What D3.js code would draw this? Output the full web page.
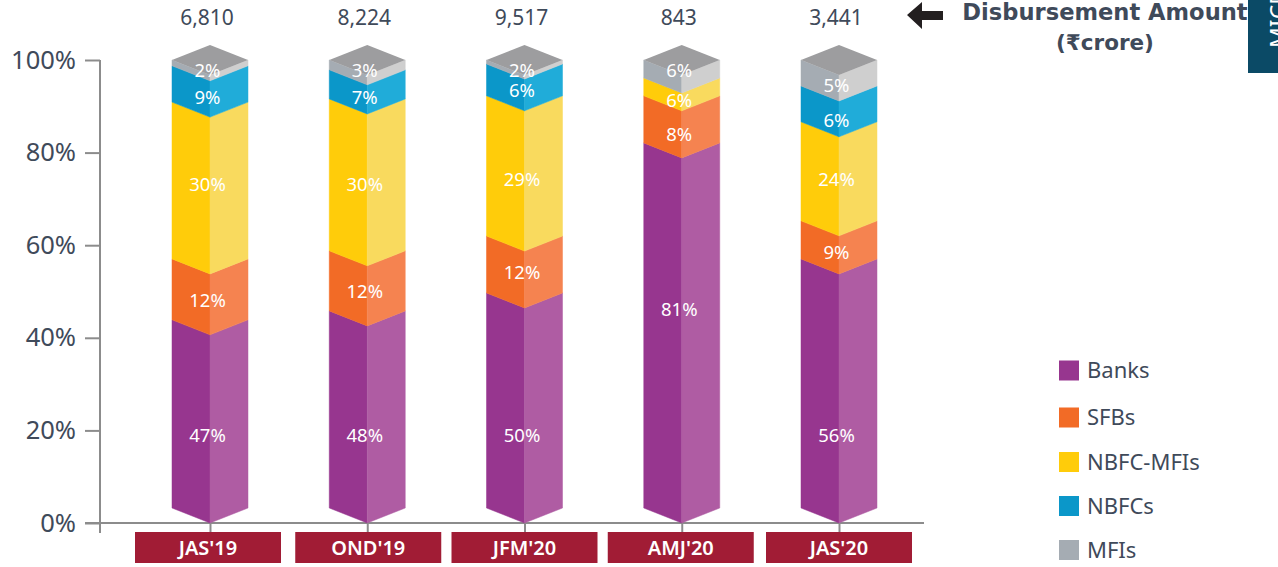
<!DOCTYPE html>
<html>
<head>
<meta charset="utf-8">
<title>Disbursement share by lender type</title>
<script src="https://cdn.jsdelivr.net/npm/d3@7"></script>
<style>
    html, body { margin: 0; padding: 0; background: #fff; overflow: hidden; }
    text { font-family: "Noto Sans", "Open Sans", sans-serif; }
</style>
</head>
<body>
<script>
"use strict";
const quarters = ["JAS'19", "OND'19", "JFM'20", "AMJ'20", "JAS'20"];
const amounts = ["6,810", "8,224", "9,517", "843", "3,441"];
const lenders = ["Banks", "SFBs", "NBFC-MFIs", "NBFCs", "MFIs"];
const percentTicks = [0, 20, 40, 60, 80, 100];

//printed share labels, one per quarter ("" means no label in the picture)
const banksLabels = [47, 48, 50, 81, 56];
const sfbsLabels = [12, 12, 12, 8, 9];
const nbfcMfisLabels = [30, 30, 29, 6, 24];
const nbfcsLabels = [9, 7, 6, "", 6];
const mfisLabels = [2, 3, 2, 6, 5];

//heights as they were actually drawn in the picture, they differ from the printed shares
const banksDrawn = [42, 44, 48, 81.5, 55.6];
const sfbsDrawn = [13.6, 13.4, 12.7, 10.5, 8.5];
const nbfcMfisDrawn = [35, 33.9, 31.3, 4, 22.1];
const nbfcsDrawn = [8.1, 6.5, 7.1, 0, 8];
const mfisDrawn = [1.3, 2.2, 0.9, 4, 5.8];

//where the label text sits, read against the axis
const banksLabelAt = [19, 19, 19, 46, 19];
const sfbsLabelAt = [48, 50, 54, 84, 58.5];
const nbfcMfisLabelAt = [73, 73, 74.2, 91.3, 74.2];
const nbfcsLabelAt = [92, 92, 93.3, 0, 87];
const mfisLabelAt = [97.8, 97.8, 97.8, 97.8, 94.4];

const measurements = { width: 1278, height: 567, depth: 15, halfBar: 38 };
const darkColors = ["#97368f", "#f26b26", "#ffcc0a", "#0b97c9", "#a5acb3"];
const lightColors = ["#af5ca3", "#f58350", "#f9da5e", "#20acd9", "#cfcfcf"];
const topColor = "#9d9d9f";
const axisColor = "#8c8c8c";
const textColor = "#3f4a5a";
//the boxes and the row spacing in the original are not quite regular
const boxShift = [-2, 1, 0, -1, 0];
const legendRows = [370.5, 417.5, 462, 506, 550];

const drawn = [banksDrawn, sfbsDrawn, nbfcMfisDrawn, nbfcsDrawn, mfisDrawn];
const labels = [banksLabels, sfbsLabels, nbfcMfisLabels, nbfcsLabels, mfisLabels];
const labelAt = [banksLabelAt, sfbsLabelAt, nbfcMfisLabelAt, nbfcsLabelAt, mfisLabelAt];

const svg = d3.select("body").append("svg")
    .attr("width", measurements.width)
    .attr("height", measurements.height);

const x = d3.scalePoint().domain(quarters).range([210, 839]);
const y = d3.scaleLinear().domain([0, 100]).range([523, 60]);
//the front corner of the prism runs on its own scale, the side corners sit one depth above it
const yFront = d3.scaleLinear().domain([0, 100]).range([523, 75]);

drawAxes();
drawBars();
drawAmounts();
drawLegend();
drawCorner();

function drawAxes() {
    const yAxis = svg.append("g")
        .attr("transform", "translate(100,0)")
        .call(d3.axisLeft(y).tickValues(percentTicks).tickSize(15).tickPadding(9).tickFormat(d => d + "%"));
    yAxis.select(".domain").remove();
    yAxis.selectAll("line").attr("stroke", axisColor).attr("stroke-width", 2);
    yAxis.selectAll("text").attr("font-size", 25.5).attr("fill", textColor);

    svg.append("line")
        .attr("x1", 100).attr("x2", 100).attr("y1", y(100)).attr("y2", 533)
        .attr("stroke", axisColor).attr("stroke-width", 2);
    svg.append("line")
        .attr("x1", 85).attr("x2", 924).attr("y1", y(0)).attr("y2", y(0))
        .attr("stroke", axisColor).attr("stroke-width", 2);

    const xAxis = svg.append("g")
        .attr("transform", `translate(0,${y(0)})`)
        .call(d3.axisBottom(x).tickSize(10).tickFormat(""));
    xAxis.select(".domain").remove();
    xAxis.selectAll("line").attr("stroke", axisColor).attr("stroke-width", 2);

    //quarter name boxes under the axis
    const boxes = svg.selectAll(".quarter")
        .data(quarters)
        .enter()
        .append("g")
        .attr("class", "quarter")
        .attr("transform", (d, i) => `translate(${x(d) + boxShift[i]},547.5)`);
    boxes.append("rect")
        .attr("x", -73).attr("y", -15.5)
        .attr("width", 146).attr("height", 31)
        .attr("fill", "#a11c35");
    boxes.append("text")
        .attr("text-anchor", "middle")
        .attr("dy", "0.35em")
        .attr("font-size", 20)
        .attr("font-weight", 600)
        .attr("fill", "#fff")
        .text(d => d);
}

function drawBars() {
    const { depth, halfBar } = measurements;
    quarters.forEach((quarter, q) => {
        const cx = x(quarter);
        const bar = svg.append("g").attr("class", "bar");
        let base = 0;
        lenders.forEach((lender, s) => {
            if (drawn[s][q] === 0) return;
            const top = base + drawn[s][q];
            const fb = yFront(base);
            const ft = yFront(top);
            //thin stroke in the fill colour closes the seams between the faces
            bar.append("polygon")
                .attr("points", [[cx - halfBar, fb - depth], [cx, fb], [cx, ft], [cx - halfBar, ft - depth]].join(" "))
                .attr("fill", darkColors[s])
                .attr("stroke", darkColors[s])
                .attr("stroke-width", 0.5);
            bar.append("polygon")
                .attr("points", [[cx + halfBar, fb - depth], [cx, fb], [cx, ft], [cx + halfBar, ft - depth]].join(" "))
                .attr("fill", lightColors[s])
                .attr("stroke", lightColors[s])
                .attr("stroke-width", 0.5);
            base = top;
        });
        const ft = yFront(base);
        bar.append("polygon")
            .attr("points", [[cx, ft], [cx - halfBar, ft - depth], [cx, ft - 2 * depth], [cx + halfBar, ft - depth]].join(" "))
            .attr("fill", topColor);

        lenders.forEach((lender, s) => {
            if (labels[s][q] === "") return;
            bar.append("text")
                .attr("x", cx - 2.5)
                .attr("y", y(labelAt[s][q]))
                .attr("text-anchor", "middle")
                .attr("dy", "0.35em")
                .attr("font-size", 18.5)
                .attr("fill", "#fff")
                .text(labels[s][q] + "%");
        });
    });
}

function drawAmounts() {
    svg.selectAll(".amount")
        .data(amounts)
        .enter()
        .append("text")
        .attr("class", "amount")
        .attr("x", (d, i) => x(quarters[i]) - 3)
        .attr("y", 18)
        .attr("dy", "0.35em")
        .attr("text-anchor", "middle")
        .attr("font-size", 21)
        .attr("fill", textColor)
        .text(d => d);

    svg.append("path")
        .attr("d", "M907,15 L922,2 L922,11 L943,11 L943,20 L922,20 L922,29 Z")
        .attr("fill", "#231f20");
    svg.append("text")
        .attr("x", 1105).attr("y", 12).attr("dy", "0.35em")
        .attr("text-anchor", "middle")
        .style("font-family", "'DejaVu Sans'")
        .attr("font-weight", "bold")
        .attr("font-size", 22.6)
        .attr("fill", textColor)
        .text("Disbursement Amount");
    svg.append("text")
        .attr("x", 1105).attr("y", 42).attr("dy", "0.35em")
        .attr("text-anchor", "middle")
        .style("font-family", "'DejaVu Sans'")
        .attr("font-weight", "bold")
        .attr("font-size", 21.5)
        .attr("fill", textColor)
        .text("(₹crore)");
}

function drawLegend() {
    const legendY = d3.scaleOrdinal().domain(lenders).range(legendRows);
    const rows = svg.selectAll(".legend")
        .data(lenders)
        .enter()
        .append("g")
        .attr("class", "legend")
        .attr("transform", d => `translate(1059,${legendY(d)})`);
    rows.append("rect")
        .attr("y", -10)
        .attr("width", 20).attr("height", 20)
        .attr("fill", (d, i) => darkColors[i]);
    rows.append("text")
        .attr("x", 28)
        .attr("dy", "0.35em")
        .attr("font-size", 22)
        .attr("fill", textColor)
        .text(d => d);
}

//the page's side tab, cut off at the window edge
function drawCorner() {
    svg.append("rect")
        .attr("x", 1248).attr("y", 0)
        .attr("width", 30).attr("height", 73)
        .attr("fill", "#0b4a66");
    svg.append("text")
        .attr("transform", "translate(1287,48) rotate(-90)")
        .attr("font-size", 23)
        .attr("fill", "#fff")
        .text("MICRO");
}
</script>
</body>
</html>
